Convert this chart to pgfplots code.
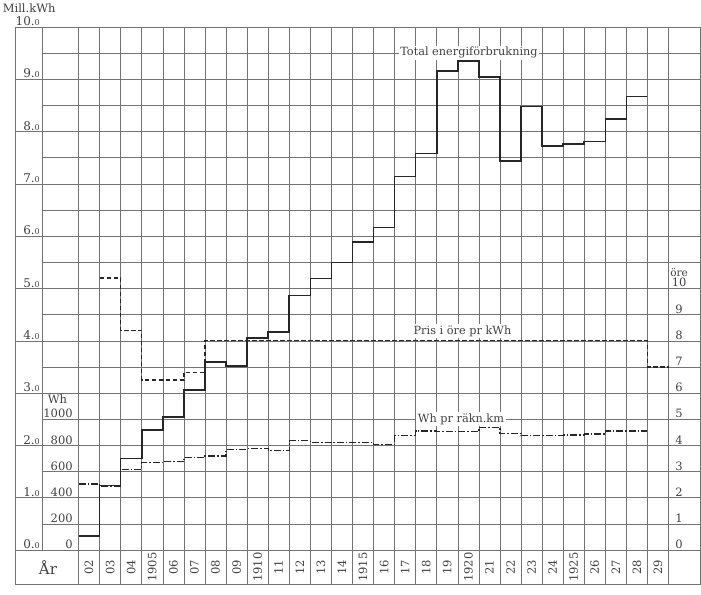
\documentclass[border=0pt]{standalone}
\usepackage{fontspec}
\setmainfont{DejaVu Serif}
\usepackage{pgfplots}
\usepackage{pgfplotstable}
\pgfplotsset{compat=1.18}

% Total energiförbrukning, Mill. kWh (x = year - 1902; last row closes the 1928 step)
\pgfplotstableread{
i total
0 0.27
1 1.235
2 1.75
3 2.30
4 2.54
5 3.06
6 3.59
7 3.52
8 4.05
9 4.17
10 4.87
11 5.19
12 5.50
13 5.89
14 6.17
15 7.14
16 7.58
17 9.16
18 9.35
19 9.04
20 7.44
21 8.48
22 7.73
23 7.76
24 7.81
25 8.24
26 8.67
27 8.67
}\totaltable

% Pris i öre pr kWh
\pgfplotstableread{
i ore
1 10.4
2 8.4
3 6.5
4 6.5
5 6.8
6 8.0
7 8.0
8 8.0
9 8.0
10 8.0
11 8.0
12 8.0
13 8.0
14 8.0
15 8.0
16 8.0
17 8.0
18 8.0
19 8.0
20 8.0
21 8.0
22 8.0
23 8.0
24 8.0
25 8.0
26 8.0
27 7.0
28 7.0
}\pristable

% Wh pr räkn.km
\pgfplotstableread{
i wh
0 505
1 487
2 617
3 668
4 675
5 709
6 719
7 768
8 775
9 759
10 836
11 823
12 825
13 823
14 808
15 874
16 910
17 906
18 906
19 938
20 892
21 874
22 874
23 880
24 887
25 910
26 910
27 910
}\whtable

\definecolor{gridc}{gray}{0.45}
\definecolor{ink}{gray}{0.15}
\definecolor{txt}{gray}{0.25}

\begin{document}
\begin{tikzpicture}
\begin{axis}[
  x=21.07pt, y=52.3pt,
  xmin=-3.726, xmax=29.54, ymin=-0.841, ymax=10.516,
  hide axis, clip=false,
]
\path (axis cs:-3.726,-0.841) rectangle (axis cs:29.54,10.516);

% ---- grid ----
\draw[gridc, line width=0.6pt] (axis cs:-3.014,-0.65) rectangle (axis cs:29.495,10);
\pgfplotsinvokeforeach{0,...,9}{
  \draw[gridc, line width=0.6pt] (axis cs:-3.014,#1) -- (axis cs:29.495,#1);
}
\pgfplotsinvokeforeach{0.5,1.5,...,9.5}{
  \draw[gridc, line width=0.6pt] (axis cs:-1.732,#1) -- (axis cs:29.495,#1);
}
\draw[gridc, line width=0.6pt] (axis cs:-1.732,0) -- (axis cs:-1.732,10);
\pgfplotsinvokeforeach{0,...,28}{
  \draw[gridc, line width=0.6pt] (axis cs:#1,-0.65) -- (axis cs:#1,10);
}

% ---- left scales ----
\node[txt, anchor=west, inner sep=0pt, font=\fontsize{11.5}{12}\selectfont] at (axis cs:-3.60,10.36) {Mill.kWh};
\foreach \k in {0,...,10} {
  \edef\temp{\noexpand\node[txt, anchor=south east, inner sep=1pt, font=\noexpand\fontsize{12}{12}\noexpand\selectfont] at (axis cs:-1.78,\k) {\k.{\noexpand\fontsize{8}{8}\noexpand\selectfont 0}};}
  \temp
}
\foreach \v/\w in {0/0,0.5/200,1/400,1.5/600,2/800,2.5/1000} {
  \edef\temp{\noexpand\node[txt, anchor=south east, inner sep=1pt, font=\noexpand\fontsize{11.5}{12}\noexpand\selectfont] at (axis cs:-0.22,\v) {\w};}
  \temp
}
\node[txt, anchor=south, inner sep=0pt, font=\fontsize{11.5}{12}\selectfont] at (axis cs:-1.0,2.79) {Wh};

% ---- right scale ----
\foreach \k in {0,...,9} {
  \edef\temp{\noexpand\node[txt, anchor=south, inner sep=1.2pt, font=\noexpand\fontsize{11.5}{12}\noexpand\selectfont] at (axis cs:28.5,\k/2) {\k};}
  \temp
}
\node[txt, anchor=south, inner sep=1.2pt, font=\fontsize{11.5}{12}\selectfont] (ten) at (axis cs:28.5,5) {10};
\node[txt, anchor=south, inner sep=0pt, font=\fontsize{10.5}{11}\selectfont] at (ten.north) {öre};

% ---- year row ----
\node[txt, font=\fontsize{15}{16}\selectfont] at (axis cs:-1.45,-0.33) {År};
\foreach \i/\l in {0/02,1/03,2/04,3/1905,4/06,5/07,6/08,7/09,8/1910,9/11,10/12,11/13,12/14,13/1915,14/16,15/17,16/18,17/19,18/1920,19/21,20/22,21/23,22/24,23/1925,24/26,25/27,26/28,27/29} {
  \edef\temp{\noexpand\node[txt, rotate=90, inner sep=0pt, font=\noexpand\fontsize{11.5}{12}\noexpand\selectfont] at (axis cs:\i+0.5,-0.325) {\l};}
  \temp
}

% ---- series labels ----
\node[txt, fill=white, inner sep=1.5pt, font=\fontsize{11.3}{12}\selectfont] at (axis cs:18.53,9.51) {Total energiförbrukning};
\node[txt, fill=white, inner sep=1.5pt, font=\fontsize{11.3}{12}\selectfont] at (axis cs:18.22,4.19) {Pris i öre pr kWh};
\node[txt, fill=white, inner sep=1.5pt, font=\fontsize{11.3}{12}\selectfont] at (axis cs:18.15,2.50) {Wh pr räkn.km};

% ---- data ----
\addplot[const plot, ink, line width=1.6pt] table[x=i, y=total] {\totaltable};
\addplot[const plot, ink, line width=1.3pt, dash pattern=on 4.5pt off 2.5pt] table[x=i, y expr=\thisrow{ore}/2] {\pristable};
\addplot[const plot, ink, line width=1.3pt, dash pattern=on 7pt off 2pt on 1.5pt off 2pt] table[x=i, y expr=\thisrow{wh}/400] {\whtable};
\end{axis}
\end{tikzpicture}
\end{document}
